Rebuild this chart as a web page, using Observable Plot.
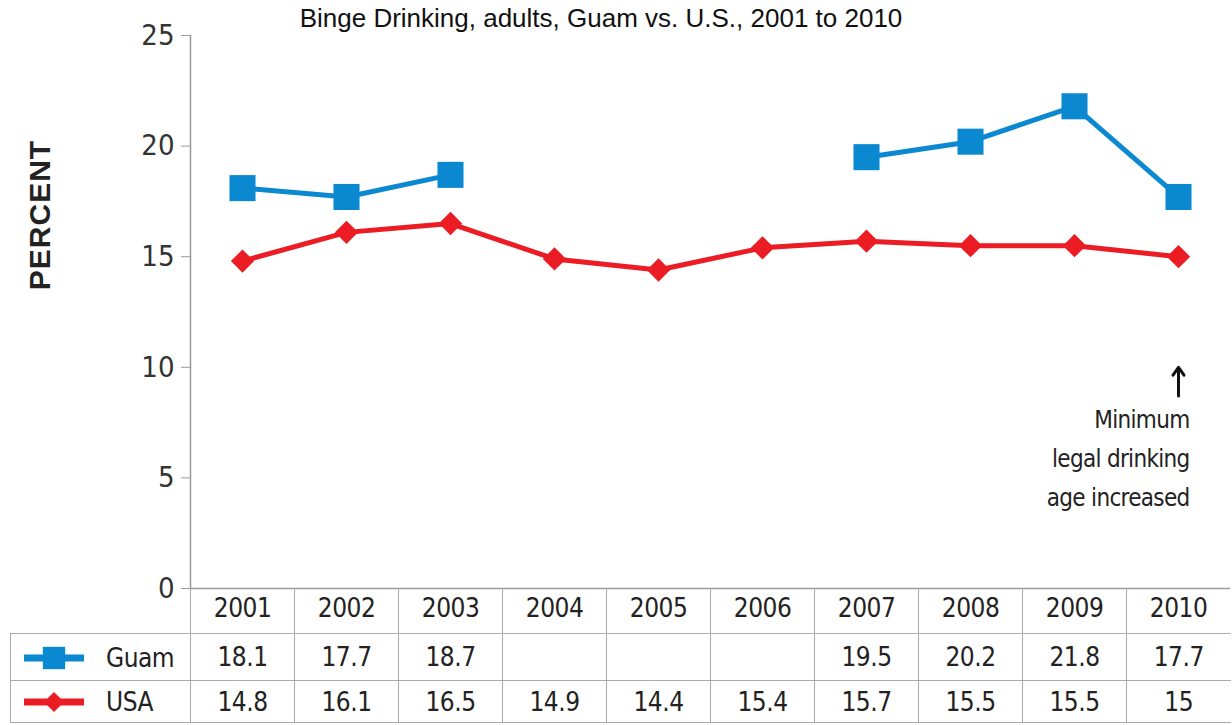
<!DOCTYPE html>
<html><head><meta charset="utf-8">
<script src="https://cdn.jsdelivr.net/npm/d3@7"></script>
<script src="https://cdn.jsdelivr.net/npm/@observablehq/plot@0.6"></script>
<style>
body{margin:0;background:#fff;}
#wrap{position:relative;width:1232px;height:725px;overflow:hidden;}
#title{position:absolute;top:3px;left:0;width:1202px;text-align:center;font:26px "Liberation Sans",Arial,sans-serif;color:#111;}
#ylab{position:absolute;left:40px;top:215px;transform:translate(-50%,-50%) rotate(-90deg);font:bold 30px "Liberation Sans",Arial,sans-serif;letter-spacing:1px;color:#222;white-space:nowrap;}
#chart{position:absolute;left:0;top:0;}
#tbl{position:absolute;border-collapse:collapse;table-layout:fixed;font:26px "Liberation Sans Narrow","DejaVu Sans Condensed",sans-serif;letter-spacing:-0.5px;color:#222;}
#tbl td{padding:0;text-align:center;vertical-align:middle;}
#tbl tr.hd td{height:45px;}
#tbl tr.hd td.yr{border-left:1.5px solid #aaa;}
#tbl tr.r1 td{height:46px;border-top:1.5px solid #aaa;}
#tbl tr.r2 td{height:41px;border-top:1.5px solid #aaa;border-bottom:1.5px solid #aaa;}
#tbl tr.r1 td.yr,#tbl tr.r2 td.yr{border-left:1.5px solid #aaa;}
#tbl td.lg{text-align:left;border-left:1.5px solid #aaa;}
#tbl tr.hd td.lg{border-left:none;}
#tbl td.lg svg{vertical-align:middle;}
#tbl td.lg span{vertical-align:middle;margin-left:20px;}
#chart text.anno, #chart g.anno text{letter-spacing:-0.6px;}
#chart g[aria-label="x-axis tick label"] text{letter-spacing:-0.5px;}
</style>
</head><body>
<div id="wrap">
<div id="chart"></div>
<div id="title">Binge Drinking, adults, Guam vs. U.S., 2001 to 2010</div>
<div id="ylab">PERCENT</div>
</div>
<script>
const years = ["2001","2002","2003","2004","2005","2006","2007","2008","2009","2010"];
const guamValues = [18.1, 17.7, 18.7, null, null, null, 19.5, 20.2, 21.8, 17.7];
const usaValues = [14.8, 16.1, 16.5, 14.9, 14.4, 15.4, 15.7, 15.5, 15.5, 15];
const yTicks = [0, 5, 10, 15, 20, 25];
const seriesNames = ["Guam", "USA"];
const annoYear = "2010";
const annoFrom = 8.7;
const annoTo = 10;
const annoLabel = "Minimum\nlegal drinking\nage increased";

const blue = "#0a88d0", red = "#ec1c24";
const guam = years.map((year, i) => ({year, value: guamValues[i] == null ? NaN : guamValues[i]}));
const usa = years.map((year, i) => ({year, value: usaValues[i]}));
const anno = [{year: annoYear, from: annoFrom, to: annoTo, label: annoLabel}];

const chart = Plot.plot({
  width: 1232, height: 633,
  marginTop: 35, marginBottom: 45, marginLeft: 190, marginRight: 2,
  x: {type: "point", domain: years, padding: 0.5, label: null},
  y: {domain: [0, 25], label: null},
  style: {background: "transparent", fontFamily: "'Liberation Sans Narrow','DejaVu Sans Condensed',sans-serif", color: "#222"},
  marks: [
    Plot.frame({anchor: "left", stroke: "#9a9a9a", strokeWidth: 1.5}),
    Plot.ruleY([0], {stroke: "#9a9a9a", strokeWidth: 1.5}),
    Plot.axisY({ticks: yTicks, tickSize: 9, tickPadding: 7, fontSize: 29, stroke: "#9a9a9a", fill: "#333", label: null}),
    Plot.axisX({tickSize: 0, tickPadding: 10, fontSize: 26, fill: "#222", label: null}),
    Plot.line(usa, {x: "year", y: "value", stroke: red, strokeWidth: 5}),
    Plot.dot(usa, {x: "year", y: "value", symbol: "diamond2", r: 10.5, fill: red}),
    Plot.line(guam, {x: "year", y: "value", stroke: blue, strokeWidth: 5}),
    Plot.dot(guam, {x: "year", y: "value", symbol: "square", r: 14.7, fill: blue}),
    Plot.arrow(anno, {x1: "year", x2: "year", y1: "from", y2: "to", stroke: "#111", strokeWidth: 3, headLength: 10, headAngle: 70}),
    Plot.text(anno, {x: "year", y: "to", text: "label", textAnchor: "end", lineAnchor: "top", dx: 11, dy: 33, fontSize: 24, lineHeight: 1.62, fill: "#222", ariaLabel: "anno"})
  ]
});
document.getElementById("chart").appendChild(chart);
chart.querySelectorAll('g[aria-label="anno"] text, g[aria-label="text"] text').forEach(t => t.style.letterSpacing = "-0.7px");

// Data table aligned with the Plot x scale
const xs = chart.scale("x");
const step = xs.step;
const left0 = xs.apply(years[0]) - step / 2;
const tbl = document.createElement("table");
tbl.id = "tbl";
tbl.style.left = "10px";
tbl.style.top = chart.scale("y").apply(0) + "px";
const cg = document.createElement("colgroup");
const c0 = document.createElement("col"); c0.style.width = (left0 - 10) + "px"; cg.appendChild(c0);
years.forEach(() => { const c = document.createElement("col"); c.style.width = step + "px"; cg.appendChild(c); });
tbl.appendChild(cg);
tbl.style.width = (left0 - 10 + step * years.length) + "px";

function swatch(color, symbol) {
  const ns = "http://www.w3.org/2000/svg";
  const s = document.createElementNS(ns, "svg");
  s.setAttribute("width", 62); s.setAttribute("height", 30);
  s.style.marginLeft = "13px";
  const l = document.createElementNS(ns, "line");
  l.setAttribute("x1", 0); l.setAttribute("x2", 60); l.setAttribute("y1", 15); l.setAttribute("y2", 15);
  l.setAttribute("stroke", color); l.setAttribute("stroke-width", 7);
  s.appendChild(l);
  const p = document.createElementNS(ns, "path");
  p.setAttribute("transform", "translate(30,15)");
  p.setAttribute("d", d3.symbol(symbol, symbol === d3.symbolSquare ? 500 : 260)());
  p.setAttribute("fill", color);
  s.appendChild(p);
  return s;
}

const hd = document.createElement("tr"); hd.className = "hd";
const h0 = document.createElement("td"); h0.className = "lg"; hd.appendChild(h0);
years.forEach(() => { const td = document.createElement("td"); td.className = "yr"; hd.appendChild(td); });
tbl.appendChild(hd);

[[seriesNames[0], guamValues, blue, d3.symbolSquare, "r1"], [seriesNames[1], usaValues, red, d3.symbolDiamond2, "r2"]].forEach(([name, vals, color, sym, cls]) => {
  const tr = document.createElement("tr"); tr.className = cls;
  const td0 = document.createElement("td"); td0.className = "lg";
  td0.appendChild(swatch(color, sym));
  const sp = document.createElement("span"); sp.textContent = name; td0.appendChild(sp);
  tr.appendChild(td0);
  vals.forEach(v => { const td = document.createElement("td"); td.className = "yr"; td.textContent = v == null ? "" : String(v); tr.appendChild(td); });
  tbl.appendChild(tr);
});
document.getElementById("wrap").appendChild(tbl);
</script>
</body></html>
